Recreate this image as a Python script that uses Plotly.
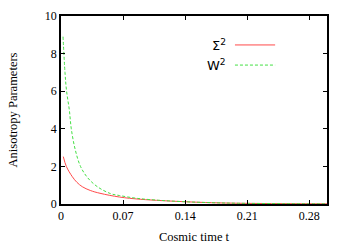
import plotly.graph_objects as go

# Data
t_sigma = [0.0026, 0.006, 0.0128, 0.018, 0.024, 0.033, 0.044, 0.066, 0.09, 0.14, 0.17, 0.2, 0.25, 0.3]
sigma2 = [2.52, 2.0, 1.45, 1.15, 0.92, 0.72, 0.57, 0.37, 0.25, 0.12, 0.07, 0.04, 0.02, 0.01]

t_w = [0.0023, 0.0045, 0.0063, 0.0094, 0.0116, 0.016, 0.022, 0.03, 0.041, 0.056, 0.066, 0.086, 0.11, 0.14, 0.17, 0.2, 0.25, 0.3]
w2 = [8.9, 7.0, 6.0, 5.0, 4.0, 2.9, 2.0, 1.4, 0.92, 0.55, 0.45, 0.3, 0.2, 0.12, 0.07, 0.04, 0.02, 0.01]

x_ticks = [0, 0.07, 0.14, 0.21, 0.28]
x_ticklabels = ["0", "0.07", "0.14", "0.21", "0.28"]
y_ticks = [0, 2, 4, 6, 8, 10]

red = "#ff4a4a"
green = "#44e044"
serif = "Liberation Serif, Times New Roman, serif"

fig = go.Figure()
fig.add_trace(go.Scatter(x=t_sigma, y=sigma2, mode="lines", line=dict(color=red, width=1, shape="spline"), showlegend=False))
fig.add_trace(go.Scatter(x=t_w, y=w2, mode="lines", line=dict(color=green, width=1, dash="3px,2px", shape="spline"), showlegend=False))

axis_common = dict(showgrid=False, zeroline=False, showline=True, linecolor="black", linewidth=1.5,
                   mirror="ticks", ticks="inside", ticklen=4, tickcolor="black", automargin=False,
                   tickfont=dict(family=serif, size=12, color="black"))

fig.update_xaxes(range=[0, 0.3], tickvals=x_ticks, ticktext=x_ticklabels,
                 title=dict(text="Cosmic time t", font=dict(family=serif, size=12.5, color="black"), standoff=10),
                 **axis_common)
fig.update_yaxes(range=[0, 10], tickvals=y_ticks,
                 title=dict(text="Anisotropy Parameters", font=dict(family=serif, size=12.5, color="black"), standoff=24),
                 **axis_common)

# Legend (gnuplot style: label to the left of the sample)
legend_items = [("Σ<sup>2</sup>", red, "solid", 0.846), ("W<sup>2</sup>", green, "3px,2px", 0.739)]
for label, color, dash, yy in legend_items:
    fig.add_annotation(x=0.628, y=yy, xref="paper", yref="paper", text=label, showarrow=False,
                       xanchor="right", yanchor="middle",
                       font=dict(family="DejaVu Sans, sans-serif", size=13, color="black"))
    fig.add_shape(type="line", xref="paper", yref="paper", x0=0.654, x1=0.805, y0=yy, y1=yy,
                  line=dict(color=color, width=1, dash=dash))

fig.update_layout(width=350, height=245, margin=dict(l=61, r=23, t=16, b=41),
                  plot_bgcolor="white", paper_bgcolor="white")

fig.write_html("out.html", config={"displayModeBar": False},
               post_script="document.body.style.margin='0';document.body.style.overflow='hidden';")
